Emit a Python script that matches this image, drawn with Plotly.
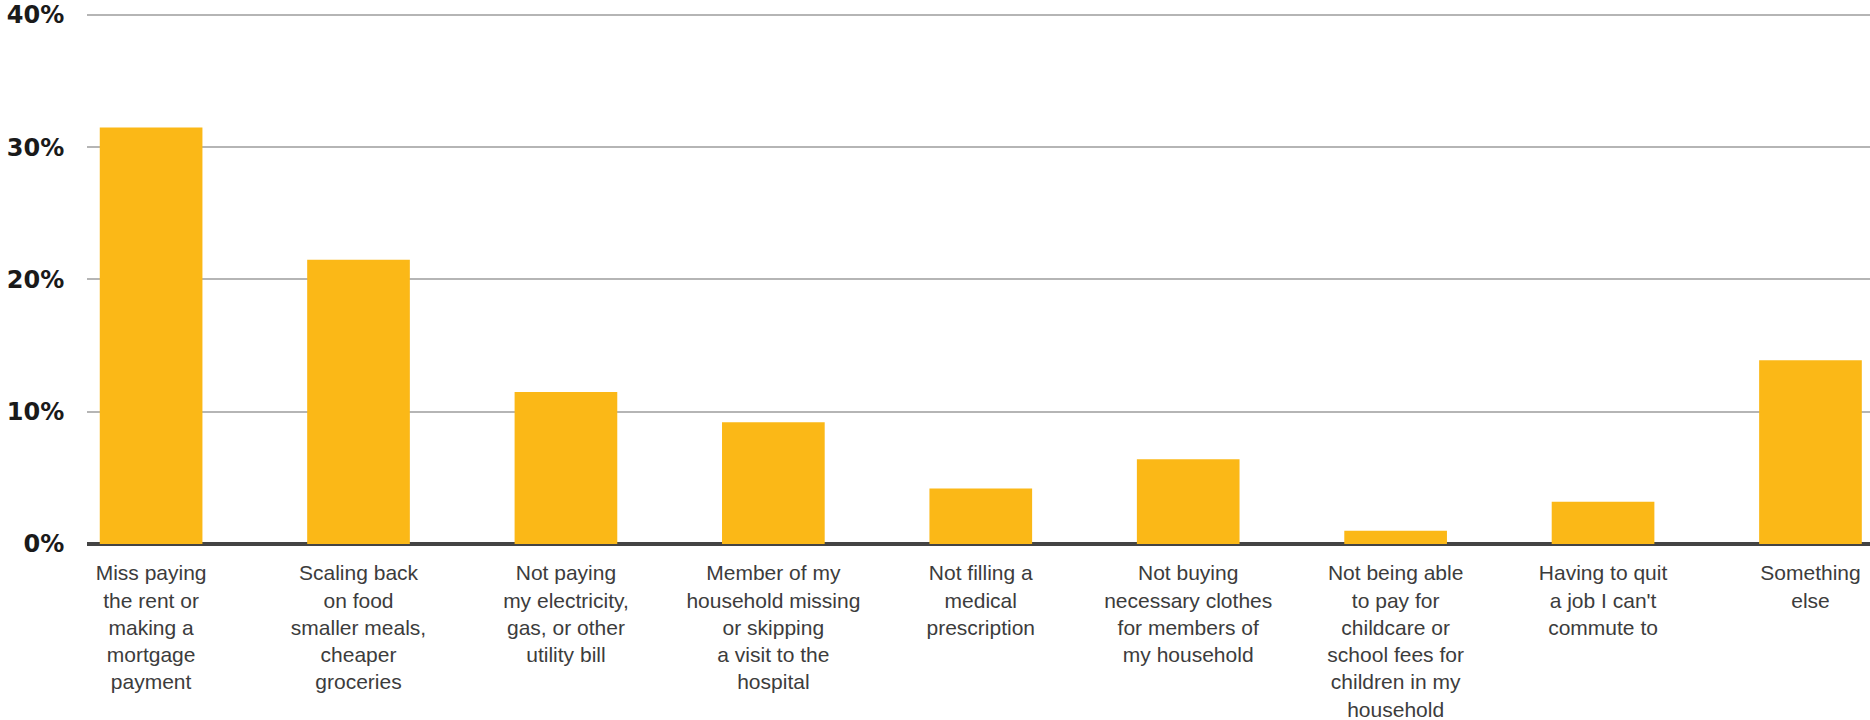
import plotly.graph_objects as go

categories = [
    "Miss paying<br>the rent or<br>making a<br>mortgage<br>payment",
    "Scaling back<br>on food<br>smaller meals,<br>cheaper<br>groceries",
    "Not paying<br>my electricity,<br>gas, or other<br>utility bill",
    "Member of my<br>household missing<br>or skipping<br>a visit to the<br>hospital",
    "Not filling a<br>medical<br>prescription",
    "Not buying<br>necessary clothes<br>for members of<br>my household",
    "Not being able<br>to pay for<br>childcare or<br>school fees for<br>children in my<br>household",
    "Having to quit<br>a job I can't<br>commute to",
    "Something<br>else",
]
values = [31.5, 21.5, 11.5, 9.2, 4.2, 6.4, 1.0, 3.2, 13.9]
y_ticks = [0, 10, 20, 30, 40]
y_tick_labels = ["0%", "10%", "20%", "30%", "40%"]

fig = go.Figure(
    go.Bar(
        x=list(range(len(categories))),
        y=values,
        marker=dict(color="#FBB817", line=dict(width=0)),
        width=0.495,
    )
)

fig.update_layout(
    width=1870,
    height=720,
    margin=dict(l=87, r=0, t=13, b=176),
    paper_bgcolor="white",
    plot_bgcolor="white",
    showlegend=False,
    xaxis=dict(
        range=[-0.309, 8.287],
        tickmode="array",
        tickvals=list(range(len(categories))),
        ticktext=categories,
        tickangle=0,
        showgrid=False,
        zeroline=False,
        showline=False,
        ticks="outside",
        ticklen=10,
        tickcolor="rgba(0,0,0,0)",
        tickfont=dict(family="Liberation Sans, Arial, sans-serif", size=21, color="#3c3c3c"),
    ),
    yaxis=dict(
        range=[0, 40.15],
        tickmode="array",
        tickvals=y_ticks,
        ticktext=y_tick_labels,
        showgrid=True,
        gridcolor="#b5b5b5",
        gridwidth=2,
        zeroline=True,
        zerolinecolor="#444444",
        zerolinewidth=4,
        showline=False,
        ticks="outside",
        ticklen=17,
        tickcolor="rgba(0,0,0,0)",
        tickfont=dict(family="DejaVu Sans, sans-serif", size=24, color="#1a1a1a", weight="bold"),
    ),
)

fig.write_html("out.html")
